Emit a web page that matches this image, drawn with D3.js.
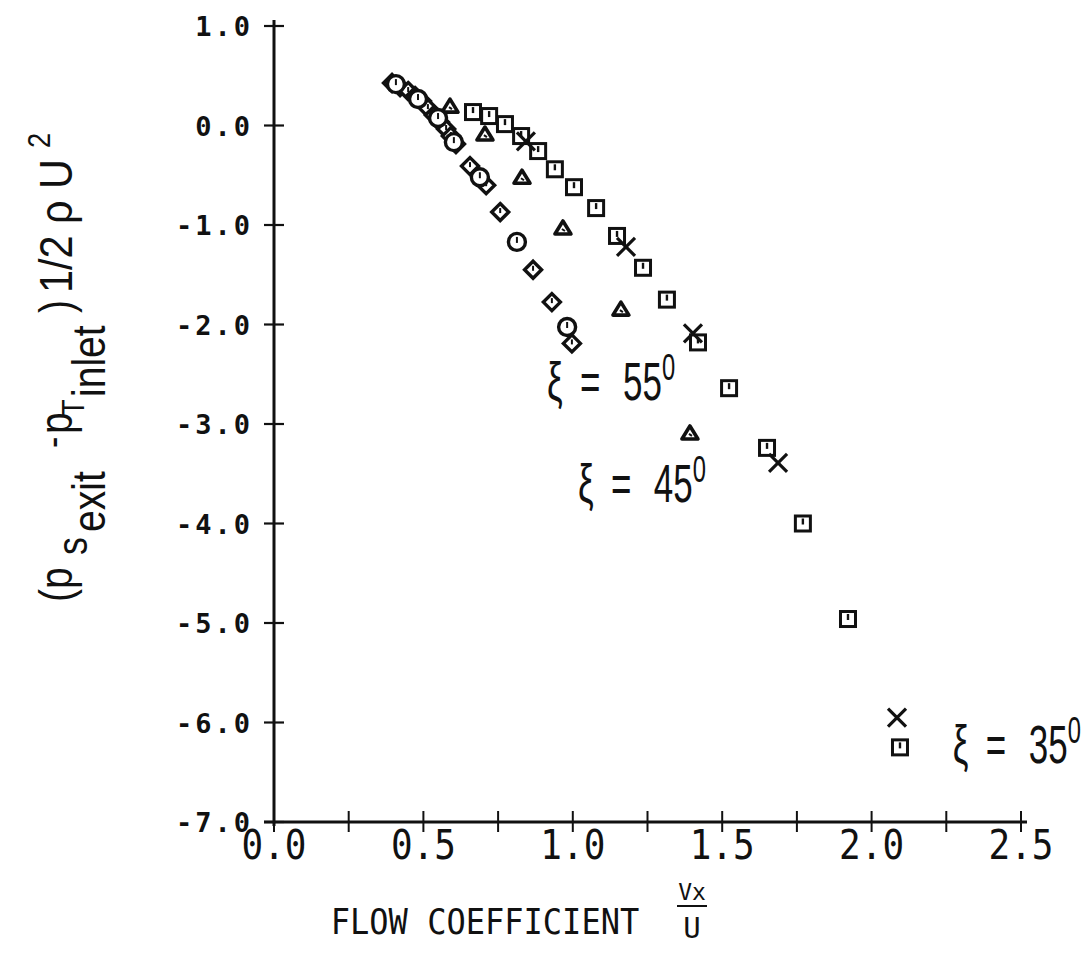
<!DOCTYPE html>
<html><head><meta charset="utf-8">
<script src="https://cdn.jsdelivr.net/npm/d3@7"></script>
<style>body{margin:0;background:#fff}svg{display:block}</style>
</head><body>
<svg id="c" width="1092" height="962"></svg>
<script>
// ---- data ----
const xTicksMajor = [0, 0.5, 1.0, 1.5, 2.0, 2.5];
const xTickLabels = ["0.0", "0.5", "1.0", "1.5", "2.0", "2.5"];
const xTicksMinor = [0, 0.25, 0.5, 0.75, 1.0, 1.25, 1.5, 1.75, 2.0, 2.25, 2.5];
const yTicks = [1, 0, -1, -2, -3, -4, -5, -6, -7];
const yTickLabels = ["1.0", "0.0", "-1.0", "-2.0", "-3.0", "-4.0", "-5.0", "-6.0", "-7.0"];

// xi = 55 deg : diamonds and circles
const diamond55 = [[0.395,0.427],[0.422,0.386],[0.449,0.346],[0.472,0.296],[0.495,0.245],[0.515,0.175],[0.535,0.105],[0.555,0.035],[0.576,-0.035],[0.592,-0.106],[0.609,-0.186],[0.656,-0.408],[0.710,-0.60],[0.757,-0.87],[0.867,-1.45],[0.930,-1.775],[0.997,-2.19]];
const circle55 = [[0.408,0.416],[0.482,0.266],[0.549,0.075],[0.602,-0.167],[0.689,-0.52],[0.813,-1.17],[0.981,-2.025]];
// xi = 45 deg : triangles
const triangle45 = [[0.589,0.195],[0.706,-0.086],[0.830,-0.52],[0.967,-1.03],[1.161,-1.845],[1.392,-3.09]];
// xi = 35 deg : squares and crosses
const square35 = [[0.666,0.135],[0.720,0.095],[0.773,0.014],[0.827,-0.106],[0.884,-0.257],[0.940,-0.44],[1.004,-0.62],[1.078,-0.83],[1.148,-1.11],[1.235,-1.43],[1.315,-1.75],[1.419,-2.18],[1.523,-2.64],[1.650,-3.24],[1.770,-4.00],[1.921,-4.96],[2.095,-6.25]];
const cross35 = [[0.843,-0.16],[1.178,-1.22],[1.402,-2.09],[1.687,-3.39],[2.085,-5.95]];

const curveLabels = [
  {text:"55", x:0.914, y:-2.76},
  {text:"45", x:1.017, y:-3.78},
  {text:"35", x:2.272, y:-6.41}
];

// ---- scales ----
const svg = d3.select("#c");
const x = d3.scaleLinear().domain([0, 2.5]).range([274, 1021]);
const y = d3.scaleLinear().domain([-7, 1]).range([822, 26]);

const ink = "#111";
const g = svg.append("g");

// axes lines
g.append("line").attr("x1", x(0)).attr("x2", x(0)).attr("y1", y(1) - 6).attr("y2", y(-7) + 4)
  .attr("stroke", ink).attr("stroke-width", 3);
g.append("line").attr("x1", x(0) - 10).attr("x2", x(2.5) + 6).attr("y1", y(-7)).attr("y2", y(-7))
  .attr("stroke", ink).attr("stroke-width", 3.2);

// y ticks (crosses)
g.selectAll(".yt").data(yTicks).join("line")
  .attr("x1", x(0) - 10).attr("x2", x(0) + 10).attr("y1", d => y(d)).attr("y2", d => y(d))
  .attr("stroke", ink).attr("stroke-width", 2.2);
// x ticks
g.selectAll(".xt").data(xTicksMinor).join("line")
  .attr("x1", d => x(d)).attr("x2", d => x(d)).attr("y1", y(-7) - 11).attr("y2", y(-7) + 10)
  .attr("stroke", ink).attr("stroke-width", 2);

const tickFont = "'DejaVu Sans Mono', monospace";
g.selectAll(".yl").data(yTicks).join("text")
  .attr("x", 253).attr("y", d => y(d) + 10)
  .attr("text-anchor", "end")
  .attr("font-family", tickFont).attr("font-size", 27).attr("font-weight", "bold")
  .attr("letter-spacing", 3)
  .attr("fill", ink)
  .text((d, i) => yTickLabels[i]);

g.selectAll(".xl").data(xTicksMajor).join("text")
  .attr("transform", d => `translate(${x(d)},${y(-7) + 37}) scale(0.9,1)`)
  .attr("text-anchor", "middle")
  .attr("font-family", tickFont).attr("font-size", 40)
  .attr("fill", ink)
  .text((d, i) => xTickLabels[i]);

// x axis title
g.append("text").attr("transform", "translate(485,934) scale(0.89,1)").attr("text-anchor", "middle")
  .attr("font-family", tickFont).attr("font-size", 36).attr("fill", ink)
  .text("FLOW COEFFICIENT");
g.append("text").attr("x", 692).attr("y", 900).attr("text-anchor", "middle")
  .attr("font-family", tickFont).attr("font-size", 23).attr("fill", ink)
  .text("Vx");
g.append("line").attr("x1", 677).attr("x2", 707).attr("y1", 906).attr("y2", 906).attr("stroke", ink).attr("stroke-width", 2);
g.append("text").attr("x", 692).attr("y", 938).attr("text-anchor", "middle")
  .attr("font-family", tickFont).attr("font-size", 29).attr("fill", ink)
  .text("U");

// y axis title (rotated)
const lab = "'Liberation Sans', Arial, sans-serif";
const yt = svg.append("g").attr("transform", "rotate(-90)");
function ytxt(t, startY, baseX, size, sx) {
  sx = sx || 0.85;
  yt.append("text").attr("transform", `translate(${-startY},${baseX}) scale(${sx},1)`)
    .attr("font-family", lab).attr("font-size", size).attr("fill", ink).text(t);
}
ytxt("(p", 602, 72, 46);
ytxt("s", 555, 87, 42);
ytxt("exit", 532, 105, 46);
ytxt("-", 448, 66, 40);
ytxt("p", 434, 72, 46);
ytxt("T", 416, 84, 32);
ytxt("inlet", 397, 105, 46);
ytxt(")", 313, 72, 46);
ytxt("1/2 ρ U", 293, 72, 46, 0.9);
ytxt("2", 148, 50, 32);

// markers
const mk = svg.append("g").attr("fill", "#fff").attr("stroke", ink).attr("stroke-width", 3);
// squares
const sq = mk.selectAll(".sq").data(square35).join("g")
  .attr("transform", d => `translate(${x(d[0])},${y(d[1])})`);
sq.append("rect").attr("x", -7.5).attr("y", -7.5).attr("width", 15).attr("height", 15);
sq.append("line").attr("x1", 0).attr("x2", 0).attr("y1", -5).attr("y2", 1).attr("stroke-width", 2.4);
// triangles
const tr = mk.selectAll(".tr").data(triangle45).join("g")
  .attr("transform", d => `translate(${x(d[0])},${y(d[1])})`);
tr.append("path").attr("d", "M0,-7 L8,6 L-8,6 Z").attr("stroke-linejoin", "round").attr("stroke-width", 3.6);
tr.append("line").attr("x1", -1).attr("x2", 2).attr("y1", 1).attr("y2", 3).attr("stroke-width", 2);
// diamonds
const dm = mk.selectAll(".dm").data(diamond55).join("g")
  .attr("transform", d => `translate(${x(d[0])},${y(d[1])})`);
dm.append("path").attr("d", "M0,-8.5 L8.5,0 L0,8.5 L-8.5,0 Z").attr("stroke-width", 3.4);
dm.append("line").attr("x1", 0).attr("x2", 0).attr("y1", -4).attr("y2", 1).attr("stroke-width", 2);
// circles
const ci = mk.selectAll(".ci").data(circle55).join("g")
  .attr("transform", d => `translate(${x(d[0])},${y(d[1])})`);
ci.append("circle").attr("r", 8.5).attr("stroke-width", 3.4);
ci.append("line").attr("x1", 0).attr("x2", 0).attr("y1", -5).attr("y2", 1).attr("stroke-width", 2);
// crosses
const cr = mk.selectAll(".cr").data(cross35).join("g")
  .attr("transform", d => `translate(${x(d[0])},${y(d[1])})`);
cr.append("line").attr("x1", -9).attr("x2", 9).attr("y1", -9).attr("y2", 9).attr("stroke-width", 3.2);
cr.append("line").attr("x1", 9).attr("x2", -9).attr("y1", -9).attr("y2", 9).attr("stroke-width", 3.2);

// curve labels (condensed lettering)
const sx = 0.66;
const cl = svg.append("g").attr("fill", ink).attr("font-family", lab);
curveLabels.forEach(c => {
  const t = cl.append("text")
    .attr("transform", `translate(${x(c.x)},${y(c.y)}) scale(${sx},1)`)
    .attr("font-size", 53);
  t.append("tspan").attr("x", 0).text("ξ");
  t.append("tspan").attr("x", 33 / sx).text("=");
  t.append("tspan").attr("x", 76 / sx).text(c.text);
  t.append("tspan").attr("dy", -20).attr("font-size", 36).text("0");
});
</script>
</body></html>
